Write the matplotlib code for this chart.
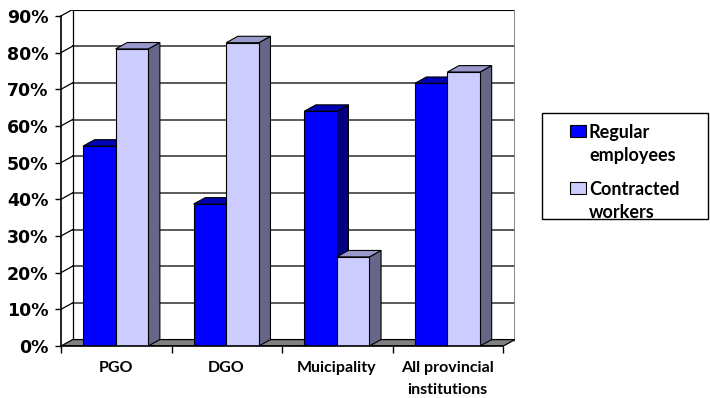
import matplotlib
matplotlib.use("Agg")
import matplotlib.pyplot as plt
from matplotlib.patches import Polygon, Rectangle

# ---- data ----
categories = ["PGO", "DGO", "Muicipality", "All provincial\ninstitutions"]
regular = [54.5, 38.7, 64.0, 71.6]
contracted = [81.0, 82.7, 24.3, 74.7]
series_names = ["Regular\nemployees", "Contracted\nworkers"]
yticks = [0, 10, 20, 30, 40, 50, 60, 70, 80, 90]
ytick_labels = [f"{v}%" for v in yticks]

# ---- style ----
W, H = 710, 398
LABEL_FONT = "Lato"
BLUE = ("#0000FF", "#0000B4", "#000080")        # front, top, side
LILAC = ("#CCCCFF", "#9999CC", "#666688")
GRID = "#5a5a5a"
DX, DY = 0.105, 1.75        # depth of the 3-D box in data units
YMAX = yticks[-1]
BAR_OFF, BAR_W = 0.199, 0.295

fig = plt.figure(figsize=(W / 100, H / 100), dpi=100)
ax = fig.add_axes([61 / W, (H - 346) / H, (515 - 61) / W, (346 - 9.5) / H])
ax.set_xlim(0, len(categories) + DX)
ax.set_ylim(0, YMAX + DY)
n = len(categories)

# back wall
ax.add_patch(Rectangle((DX, DY), n, YMAX, facecolor="white", edgecolor="none", zorder=0))
for v in yticks[1:-1]:
    ax.plot([DX, n + DX], [v + DY, v + DY], color=GRID, lw=1.4, zorder=1)
for v in yticks[1:]:
    ax.plot([0, DX], [v, v + DY], color="black", lw=0.9, zorder=1)
ax.plot([DX, n + DX], [YMAX + DY, YMAX + DY], color="black", lw=1.5, zorder=1)
ax.plot([DX, DX], [DY, YMAX + DY], color="black", lw=0.9, zorder=1)
ax.plot([n + DX, n + DX], [DY, YMAX + DY], color="#808080", lw=2, zorder=1)

# floor
ax.add_patch(Polygon([(0, 0), (n, 0), (n + DX, DY), (DX, DY)], closed=True,
                     facecolor="#808080", edgecolor="black", lw=0.9, zorder=2))


def bar3d(x0, w, h, colors):
    front, top, side = colors
    kw = dict(edgecolor="black", lw=0.8, zorder=3)
    ax.add_patch(Polygon([(x0 + w, 0), (x0 + w + DX, DY), (x0 + w + DX, h + DY), (x0 + w, h)],
                         closed=True, facecolor=side, **kw))
    ax.add_patch(Polygon([(x0, h), (x0 + w, h), (x0 + w + DX, h + DY), (x0 + DX, h + DY)],
                         closed=True, facecolor=top, **kw))
    ax.add_patch(Rectangle((x0, 0), w, h, facecolor=front, **kw))


for i in range(n):
    bar3d(i + BAR_OFF, BAR_W, regular[i], BLUE)
    bar3d(i + BAR_OFF + BAR_W, BAR_W, contracted[i], LILAC)

# axes
for s in ("top", "right"):
    ax.spines[s].set_visible(False)
ax.spines["left"].set_bounds(0, YMAX)
ax.spines["bottom"].set_bounds(0, n)
ax.spines["left"].set_linewidth(1.2)
ax.spines["bottom"].set_linewidth(1.2)
ax.spines["left"].set_zorder(4)
ax.spines["bottom"].set_zorder(4)
ax.set_yticks(yticks)
ax.set_yticklabels(ytick_labels, fontsize=12.5, fontweight="bold", family="DejaVu Sans")
ax.tick_params(axis="y", length=4, width=1, pad=5)
ax.set_xticks(range(n + 1))
ax.set_xticklabels([])
ax.tick_params(axis="x", which="major", length=5, width=1)
ax.set_xticks([i + BAR_OFF + BAR_W for i in range(n)], minor=True)
ax.set_xticklabels(categories, minor=True, fontsize=11.5, fontweight="bold",
                   family=LABEL_FONT, linespacing=1.75)
ax.tick_params(axis="x", which="minor", length=0, pad=10.5)

# legend
fig.patches.append(Rectangle((542 / W, (H - 219) / H), 166 / W, 106 / H,
                             transform=fig.transFigure, facecolor="white",
                             edgecolor="black", lw=1))
for k, (name, col) in enumerate(zip(series_names, (BLUE[0], LILAC[0]))):
    top_px = 125 + 57 * k
    fig.patches.append(Rectangle((570 / W, (H - top_px - 12) / H), 16 / W, 12 / H,
                                 transform=fig.transFigure, facecolor=col,
                                 edgecolor="black", lw=0.8))
    fig.text(589 / W, (H - top_px + 1) / H, name, ha="left", va="top",
             fontsize=13, fontweight="bold", family=LABEL_FONT, linespacing=1.4)

fig.savefig("out.png", dpi=100)
